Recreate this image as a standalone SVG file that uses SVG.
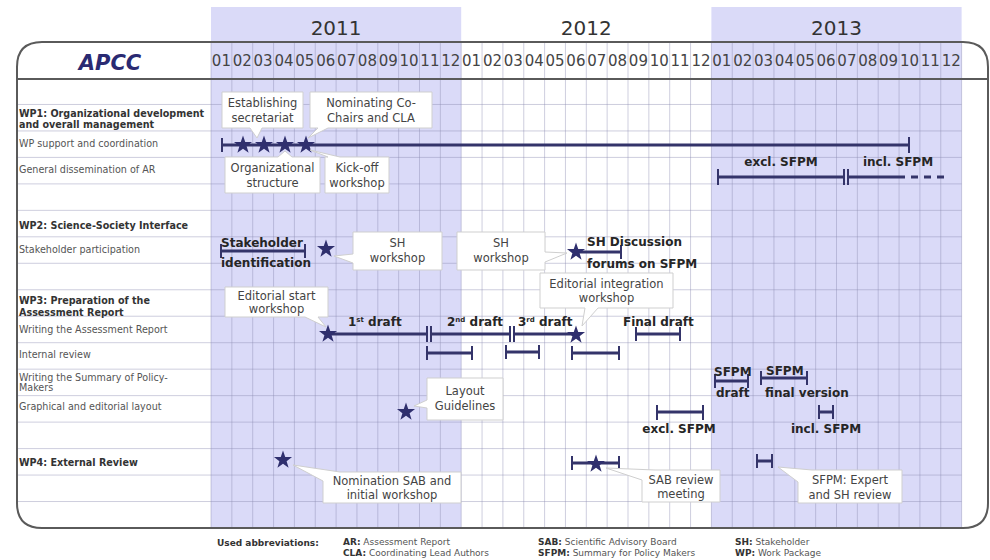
<svg xmlns="http://www.w3.org/2000/svg" xmlns:xlink="http://www.w3.org/1999/xlink" width="990" height="560" viewBox="0 0 990 560">
<defs>
<style>
.shade{fill:#dadaf8}
.grid{stroke:#8a8ab0;stroke-opacity:0.42;stroke-width:1;fill:none}
.frame{fill:none;stroke:#5a5a5a;stroke-width:2}
.yr{font-family:"DejaVu Sans",sans-serif;font-size:20px;fill:#333;text-anchor:middle}
.m{font-family:"DejaVu Sans",sans-serif;font-size:15px;fill:#444;text-anchor:middle}
.lbl{font-family:"DejaVu Sans",sans-serif;font-size:9.6px;fill:#555}
.lblb{font-family:"DejaVu Sans",sans-serif;font-size:9.6px;font-weight:bold;fill:#333}
.co{fill:#fff;stroke:#cfcfcf;stroke-width:1}
.cot{font-family:"DejaVu Sans",sans-serif;font-size:11.5px;fill:#444;text-anchor:middle}
.bar{fill:none;stroke:#34346a;stroke-width:3}
.tk{fill:none;stroke:#34346a;stroke-width:2}
.bt{font-family:"DejaVu Sans",sans-serif;font-size:12px;font-weight:bold;fill:#262626}
.sup{font-size:7px}
.star{fill:#2f2f6e}
.leg{font-family:"DejaVu Sans",sans-serif;font-size:9px;fill:#555}
.legb{font-weight:bold;fill:#333}
</style>
<path id="st" d="M0,-9.5 L2.24,-3.07 L9.03,-2.94 L3.61,1.17 L5.58,7.69 L0,3.8 L-5.58,7.69 L-3.61,1.17 L-9.03,-2.94 L-2.24,-3.07 Z"/>
</defs>
<rect width="990" height="560" fill="#fff"/>
<g id="background">
<rect class="shade" x="211" y="7" width="250.2" height="521"/>
<rect class="shade" x="711.4" y="7" width="250.2" height="521"/>
<path class="grid" d="M211,42V528M231.85,42V528M252.7,42V528M273.55,42V528M294.4,42V528M315.25,42V528M336.1,42V528M356.95,42V528M377.8,42V528M398.65,42V528M419.5,42V528M440.35,42V528M461.2,42V528M482.05,42V528M502.9,42V528M523.75,42V528M544.6,42V528M565.45,42V528M586.3,42V528M607.15,42V528M628,42V528M648.85,42V528M669.7,42V528M690.55,42V528M711.4,42V528M732.25,42V528M753.1,42V528M773.95,42V528M794.8,42V528M815.65,42V528M836.5,42V528M857.35,42V528M878.2,42V528M899.05,42V528M919.9,42V528M940.75,42V528M961.6,42V528"/>
<path class="grid" d="M17,104.47H961.6M17,130.94H961.6M17,157.41H961.6M17,183.88H961.6M17,210.35H961.6M17,236.82H961.6M17,263.29H961.6M17,289.76H961.6M17,316.23H961.6M17,342.7H961.6M17,369.17H961.6M17,395.64H961.6M17,422.11H961.6M17,448.58H961.6M17,475.05H961.6M17,501.52H961.6"/>
<path class="frame" d="M17,67 Q17,42 42,42 L963,42 Q988,42 988,67 L988,503 Q988,528 963,528 L42,528 Q17,528 17,503 Z"/>
<path class="frame" d="M17,79H988"/>
</g>
<g id="header">
<text class="yr" x="336.1" y="35">2011</text>
<text class="yr" x="586.3" y="35">2012</text>
<text class="yr" x="836.5" y="35">2013</text>
<text x="110" y="70" font-family="DejaVu Sans, sans-serif" font-size="21" font-weight="bold" font-style="italic" fill="#2a2a72" text-anchor="middle">APCC</text>
<g id="months">
<text class="m" x="221.4" y="66">01</text><text class="m" x="242.3" y="66">02</text><text class="m" x="263.1" y="66">03</text><text class="m" x="284" y="66">04</text><text class="m" x="304.8" y="66">05</text><text class="m" x="325.7" y="66">06</text><text class="m" x="346.5" y="66">07</text><text class="m" x="367.4" y="66">08</text><text class="m" x="388.2" y="66">09</text><text class="m" x="409.1" y="66">10</text><text class="m" x="429.9" y="66">11</text><text class="m" x="450.8" y="66">12</text>
<text class="m" x="471.6" y="66">01</text><text class="m" x="492.5" y="66">02</text><text class="m" x="513.3" y="66">03</text><text class="m" x="534.2" y="66">04</text><text class="m" x="555" y="66">05</text><text class="m" x="575.9" y="66">06</text><text class="m" x="596.7" y="66">07</text><text class="m" x="617.6" y="66">08</text><text class="m" x="638.4" y="66">09</text><text class="m" x="659.3" y="66">10</text><text class="m" x="680.1" y="66">11</text><text class="m" x="701" y="66">12</text>
<text class="m" x="721.8" y="66">01</text><text class="m" x="742.7" y="66">02</text><text class="m" x="763.5" y="66">03</text><text class="m" x="784.4" y="66">04</text><text class="m" x="805.2" y="66">05</text><text class="m" x="826.1" y="66">06</text><text class="m" x="846.9" y="66">07</text><text class="m" x="867.8" y="66">08</text><text class="m" x="888.6" y="66">09</text><text class="m" x="909.5" y="66">10</text><text class="m" x="930.3" y="66">11</text><text class="m" x="951.2" y="66">12</text>
</g>
</g>
<g id="row-labels">
<text class="lblb" x="19" y="116.5">WP1: Organizational development</text>
<text class="lblb" x="19" y="127.5">and overall management</text>
<text class="lbl" x="19" y="147">WP support and coordination</text>
<text class="lbl" x="19" y="173">General dissemination of AR</text>
<text class="lblb" x="19" y="229">WP2: Science-Society Interface</text>
<text class="lbl" x="19" y="253">Stakeholder participation</text>
<text class="lblb" x="19" y="304">WP3: Preparation of the</text>
<text class="lblb" x="19" y="315.5">Assessment Report</text>
<text class="lbl" x="19" y="333">Writing the Assessment Report</text>
<text class="lbl" x="19" y="358">Internal review</text>
<text class="lbl" x="19" y="380.5">Writing the Summary of Policy-</text>
<text class="lbl" x="19" y="391">Makers</text>
<text class="lbl" x="19" y="410">Graphical and editorial layout</text>
<text class="lblb" x="19" y="465.5">WP4: External Review</text>
</g>
<g id="connectors">
<path class="bar" d="M221,145H909"/>
<path class="tk" d="M222,138V152M909,137V153"/>
<path class="bar" d="M718,177H844M848,177H905"/>
<path class="bar" d="M911,177H946" stroke-dasharray="7,6"/>
<path class="tk" d="M718,169V185M844,169V185M848,169V185"/>
<path class="bar" d="M221,251H305"/>
<path class="tk" d="M221,244V258M305,244V258"/>
<path class="bar" d="M576,252H621"/>
<path class="tk" d="M621,245V259"/>
<path class="bar" d="M328,334H427M431,334H510M514,334H576"/>
<path class="tk" d="M427,326V342M431,326V342M510,326V342M514,326V342"/>
<path class="bar" d="M636,334H680"/>
<path class="tk" d="M636,327V341M680,327V341"/>
<path class="bar" d="M427,353H472M506,352H539M572,353H619"/>
<path class="tk" d="M427,346V360M472,346V360M506,345V359M539,345V359M572,346V360M619,346V360"/>
<path class="bar" d="M715,381H748M761,378H807"/>
<path class="tk" d="M715,374V388M748,374V388M761,371V385M807,371V385"/>
<path class="bar" d="M657,412H703M819,412H833"/>
<path class="tk" d="M657,405V420M703,405V420M819,405V419M833,405V419"/>
<path class="bar" d="M572,463H619M757,461H772"/>
<path class="tk" d="M572,456V470M619,456V470M757,454V468M772,454V468"/>
</g>
<g id="milestones">
<use xlink:href="#st" class="star" x="243" y="145"/>
<use xlink:href="#st" class="star" x="264" y="145"/>
<use xlink:href="#st" class="star" x="285" y="145"/>
<use xlink:href="#st" class="star" x="306" y="145"/>
<use xlink:href="#st" class="star" x="326" y="249"/>
<use xlink:href="#st" class="star" x="576" y="252"/>
<use xlink:href="#st" class="star" x="328" y="334"/>
<use xlink:href="#st" class="star" x="576" y="335"/>
<use xlink:href="#st" class="star" x="406" y="412"/>
<use xlink:href="#st" class="star" x="283" y="460"/>
<use xlink:href="#st" class="star" x="596" y="464"/>
</g>
<g id="bar-labels">
<text class="bt" x="781" y="166" text-anchor="middle">excl. SFPM</text>
<text class="bt" x="898" y="166" text-anchor="middle">incl. SFPM</text>
<text class="bt" x="221" y="247">Stakeholder</text>
<text class="bt" x="221" y="267">identification</text>
<text class="bt" x="587" y="246">SH Discussion</text>
<text class="bt" x="587" y="268">forums on SFPM</text>
<text class="bt" x="348" y="326">1<tspan class="sup" dy="-4">st</tspan><tspan dy="4"> draft</tspan></text>
<text class="bt" x="447" y="326">2<tspan class="sup" dy="-4">nd</tspan><tspan dy="4"> draft</tspan></text>
<text class="bt" x="518" y="326">3<tspan class="sup" dy="-4">rd</tspan><tspan dy="4"> draft</tspan></text>
<text class="bt" x="623" y="326">Final draft</text>
<text class="bt" x="714" y="376">SFPM</text>
<text class="bt" x="716" y="397">draft</text>
<text class="bt" x="766" y="375">SFPM</text>
<text class="bt" x="765" y="397">final version</text>
<text class="bt" x="679" y="433" text-anchor="middle">excl. SFPM</text>
<text class="bt" x="826" y="433" text-anchor="middle">incl. SFPM</text>
</g>
<g id="callout-secretariat">
<path class="co" d="M222,92H303V128H262L257,138L250,128H222Z"/>
<text class="cot" x="262.5" y="107">Establishing</text>
<text class="cot" x="262.5" y="122">secretariat</text>
</g>
<g id="callout-cochairs">
<path class="co" d="M310,92H432V128H328L308,138L318,128H310Z"/>
<text class="cot" x="371" y="107">Nominating Co-</text>
<text class="cot" x="371" y="122">Chairs and CLA</text>
</g>
<g id="callout-orgstructure">
<path class="co" d="M225,157H278L285,151L292,157H320V193H225Z"/>
<text class="cot" x="272.5" y="172">Organizational</text>
<text class="cot" x="272.5" y="187">structure</text>
</g>
<g id="callout-kickoff">
<path class="co" d="M325,157H328L310,150L340,157H389V193H325Z"/>
<text class="cot" x="357" y="172">Kick-off</text>
<text class="cot" x="357" y="187">workshop</text>
</g>
<g id="callout-shworkshop1">
<path class="co" d="M353,232H442V270H353V263L334,256L353,254Z"/>
<text class="cot" x="397.5" y="247">SH</text>
<text class="cot" x="397.5" y="262">workshop</text>
</g>
<g id="callout-shworkshop2">
<path class="co" d="M457,232H545V252L567,253L545,262V270H457Z"/>
<text class="cot" x="501" y="247">SH</text>
<text class="cot" x="501" y="262">workshop</text>
</g>
<g id="callout-editstart">
<path class="co" d="M225,287H328V317H318L326,327L305,317H225Z"/>
<text class="cot" x="276.5" y="300">Editorial start</text>
<text class="cot" x="276.5" y="313">workshop</text>
</g>
<g id="callout-editintegration">
<path class="co" d="M540,273H673V308H598L582,326L585,308H540Z"/>
<text class="cot" x="606.5" y="288">Editorial integration</text>
<text class="cot" x="606.5" y="302">workshop</text>
</g>
<g id="callout-layout">
<path class="co" d="M427,378H503V420H427V408L414,406L427,400Z"/>
<text class="cot" x="465" y="395">Layout</text>
<text class="cot" x="465" y="410">Guidelines</text>
</g>
<g id="callout-nomination">
<path class="co" d="M293,465L340,472H461V503H323V481Z"/>
<text class="cot" x="392" y="485">Nomination SAB and</text>
<text class="cot" x="392" y="499">initial workshop</text>
</g>
<g id="callout-sabreview">
<path class="co" d="M606,468L655,470H720V502H642V480Z"/>
<text class="cot" x="681" y="484">SAB review</text>
<text class="cot" x="681" y="498">meeting</text>
</g>
<g id="callout-sfpmreview">
<path class="co" d="M778,467L812,470H902V503H798V482Z"/>
<text class="cot" x="850" y="484">SFPM: Expert</text>
<text class="cot" x="850" y="499">and SH review</text>
</g>
<g id="legend">
<text class="leg legb" x="217" y="546">Used abbreviations:</text>
<text class="leg" x="343" y="545"><tspan class="legb">AR:</tspan> Assessment Report</text>
<text class="leg" x="343" y="556"><tspan class="legb">CLA:</tspan> Coordinating Lead Authors</text>
<text class="leg" x="538" y="545"><tspan class="legb">SAB:</tspan> Scientific Advisory Board</text>
<text class="leg" x="538" y="556"><tspan class="legb">SFPM:</tspan> Summary for Policy Makers</text>
<text class="leg" x="735" y="545"><tspan class="legb">SH:</tspan> Stakeholder</text>
<text class="leg" x="735" y="556"><tspan class="legb">WP:</tspan> Work Package</text>
</g>
</svg>
